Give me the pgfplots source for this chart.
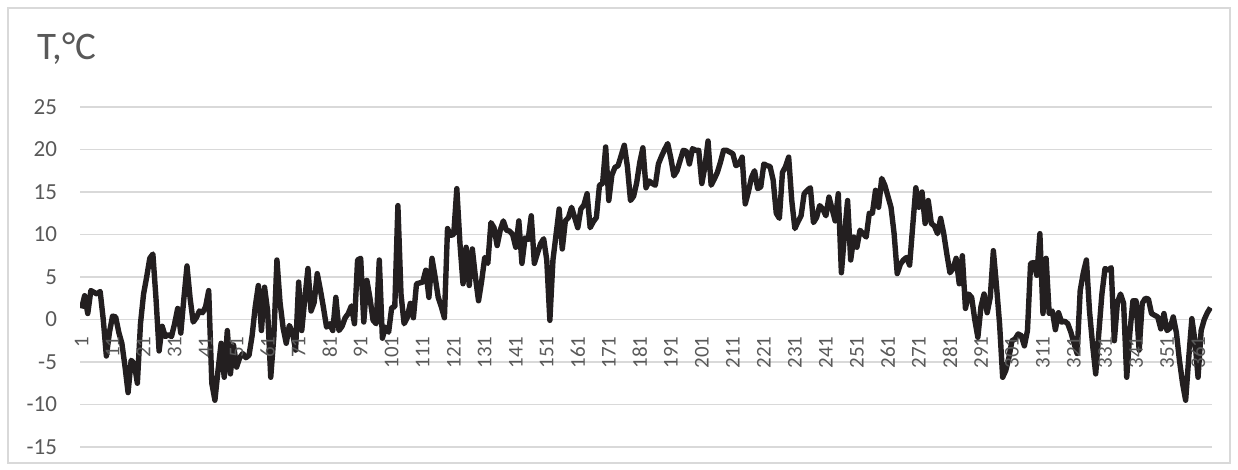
\documentclass[border=0pt]{standalone}
\usepackage{pgfplots}
\pgfplotsset{compat=1.18}
\usepackage{fontspec}
\setmainfont{Carlito}
\definecolor{linec}{HTML}{231F20}
\definecolor{gridc}{HTML}{D9D9D9}
\definecolor{labc}{HTML}{595959}
\pgfplotsset{
  base/.style={
    at={(40pt,11.5pt)}, anchor=south west,
    scale only axis, width=566pt, height=170pt,
    xmin=0.5, xmax=365.5, ymin=-15, ymax=25,
    axis x line=middle, axis y line=left,
    y axis line style={draw=none},
    major tick length=0pt,
    hide obscured x ticks=false, hide obscured y ticks=false,
    tick label style={text=labc},
    /pgf/number format/assume math mode=true,
  }
}
\begin{document}
\begin{tikzpicture}
\useasboundingbox (0,0) rectangle (619pt,235pt);
\draw[gridc, line width=0.6pt] (4pt,3.5pt) rectangle (615pt,231pt);
\node[anchor=west, text=labc, font=\fontsize{19.5}{21}\selectfont, inner sep=0pt] at (18.5pt,210.5pt) {T,°C};
\begin{axis}[
  base,
  x axis line style={-, draw=gridc, line width=0.75pt},
  ytick={-15,-10,...,25},
  xtick=\empty,
  ymajorgrids, grid style={draw=gridc, line width=0.75pt},
  yticklabel style={font=\fontsize{11.5}{12}\selectfont, anchor=east, xshift=-8pt},
]
\addplot[linec, line width=2.7pt, line join=round, mark=none] coordinates {
(1,1.3)(2,2.8)(3,0.7)(4,3.4)(5,3.2)(6,3.0)(7,3.3)(8,0.0)(9,-4.3)(10,-1.5)
(11,0.4)(12,0.3)(13,-1.5)(14,-2.8)(15,-5.5)(16,-8.6)(17,-4.8)(18,-5.2)(19,-7.5)(20,-0.5)
(21,3.0)(22,5.0)(23,7.2)(24,7.7)(25,2.5)(26,-3.7)(27,-0.8)(28,-2.0)(29,-1.8)(30,-2.0)
(31,-0.5)(32,1.3)(33,-1.6)(34,2.5)(35,6.3)(36,2.5)(37,-0.3)(38,0.2)(39,1.0)(40,0.8)
(41,1.5)(42,3.4)(43,-7.5)(44,-9.5)(45,-6.0)(46,-2.8)(47,-6.8)(48,-1.3)(49,-6.4)(50,-3.0)
(51,-5.6)(52,-4.5)(53,-4.0)(54,-4.5)(55,-4.2)(56,-1.9)(57,1.5)(58,4.0)(59,-1.3)(60,3.8)
(61,1.0)(62,-6.8)(63,-2.0)(64,7.0)(65,2.0)(66,-1.0)(67,-2.8)(68,-0.7)(69,-1.5)(70,-3.6)
(71,4.4)(72,-1.3)(73,2.5)(74,6.0)(75,1.0)(76,2.0)(77,5.4)(78,3.5)(79,1.4)(80,-0.9)
(81,-0.5)(82,-1.3)(83,2.6)(84,-1.3)(85,-0.8)(86,0.2)(87,0.7)(88,1.6)(89,-0.5)(90,7.0)
(91,7.2)(92,-0.3)(93,4.6)(94,2.5)(95,-0.1)(96,-0.5)(97,7.0)(98,-2.2)(99,-0.9)(100,-1.5)
(101,1.4)(102,1.5)(103,13.4)(104,3.0)(105,-0.5)(106,0.2)(107,1.9)(108,0.2)(109,4.2)(110,4.3)
(111,4.4)(112,5.8)(113,2.6)(114,7.2)(115,5.0)(116,2.6)(117,1.5)(118,0.2)(119,10.7)(120,9.9)
(121,10.0)(122,15.4)(123,9.0)(124,4.2)(125,8.5)(126,4.0)(127,8.3)(128,5.0)(129,2.2)(130,4.5)
(131,7.3)(132,6.6)(133,11.4)(134,10.8)(135,8.7)(136,10.5)(137,11.6)(138,10.5)(139,10.4)(140,10.0)
(141,8.5)(142,11.6)(143,6.6)(144,9.6)(145,9.4)(146,12.2)(147,6.6)(148,7.8)(149,8.9)(150,9.5)
(151,7.0)(152,-0.1)(153,7.0)(154,10.0)(155,13.0)(156,8.3)(157,11.6)(158,12.0)(159,13.2)(160,12.0)
(161,10.8)(162,13.0)(163,13.5)(164,14.8)(165,10.8)(166,11.5)(167,12.0)(168,15.8)(169,16.0)(170,20.3)
(171,14.0)(172,17.0)(173,17.9)(174,18.1)(175,19.3)(176,20.5)(177,18.0)(178,14.0)(179,14.5)(180,16.1)
(181,18.5)(182,20.2)(183,15.5)(184,16.3)(185,16.0)(186,15.8)(187,18.3)(188,19.2)(189,20.0)(190,20.7)
(191,19.0)(192,16.9)(193,17.5)(194,18.7)(195,19.9)(196,19.8)(197,18.3)(198,20.1)(199,19.9)(200,19.9)
(201,16.0)(202,18.0)(203,21.0)(204,15.8)(205,16.5)(206,17.3)(207,18.5)(208,19.9)(209,19.9)(210,19.7)
(211,19.5)(212,18.1)(213,18.3)(214,19.1)(215,13.6)(216,15.0)(217,16.7)(218,17.5)(219,15.4)(220,15.6)
(221,18.3)(222,18.1)(223,18.0)(224,16.4)(225,12.5)(226,11.9)(227,17.3)(228,18.0)(229,19.1)(230,14.0)
(231,10.7)(232,11.5)(233,12.2)(234,14.8)(235,15.2)(236,15.5)(237,11.4)(238,12.0)(239,13.4)(240,13.0)
(241,12.2)(242,14.4)(243,13.0)(244,11.6)(245,14.8)(246,5.5)(247,10.0)(248,14.0)(249,7.0)(250,9.7)
(251,8.5)(252,10.5)(253,10.1)(254,9.7)(255,12.5)(256,12.5)(257,15.2)(258,13.2)(259,16.6)(260,15.8)
(261,14.5)(262,13.2)(263,10.1)(264,5.4)(265,6.5)(266,7.0)(267,7.3)(268,6.4)(269,11.0)(270,15.5)
(271,13.2)(272,15.0)(273,11.3)(274,14.0)(275,11.3)(276,11.0)(277,10.1)(278,11.9)(279,10.1)(280,7.7)
(281,5.5)(282,6.0)(283,7.2)(284,4.2)(285,7.5)(286,1.3)(287,3.0)(288,2.6)(289,0.0)(290,-2.1)
(291,1.5)(292,3.0)(293,0.8)(294,2.6)(295,8.1)(296,4.0)(297,-0.5)(298,-6.8)(299,-6.0)(300,-4.5)
(301,-2.5)(302,-2.3)(303,-1.7)(304,-1.9)(305,-3.1)(306,-1.3)(307,6.6)(308,6.7)(309,5.2)(310,10.1)
(311,0.7)(312,7.2)(313,0.7)(314,1.0)(315,-1.2)(316,0.8)(317,-0.3)(318,-0.2)(319,-0.5)(320,-1.5)
(321,-2.8)(322,-4.0)(323,3.4)(324,5.5)(325,7.0)(326,1.0)(327,-3.0)(328,-6.4)(329,-1.6)(330,3.0)
(331,6.0)(332,5.8)(333,6.1)(334,-2.5)(335,2.0)(336,3.0)(337,1.9)(338,-6.8)(339,-1.6)(340,2.2)
(341,2.2)(342,-3.6)(343,1.9)(344,2.5)(345,2.4)(346,0.7)(347,0.5)(348,0.3)(349,-1.1)(350,0.7)
(351,-1.3)(352,-1.0)(353,0.3)(354,-1.5)(355,-4.8)(356,-7.5)(357,-9.5)(358,-4.5)(359,0.1)(360,-2.5)
(361,-6.8)(362,-1.3)(363,0.0)(364,0.8)(365,1.4)
};
\end{axis}
\begin{axis}[
  base,
  x axis line style={draw=none},
  ytick=\empty,
  xtick={1,11,...,361},
  xticklabel style={font=\fontsize{10.5}{11}\selectfont, rotate=90, anchor=east},
  xticklabel shift=5pt,
]
\end{axis}
\end{tikzpicture}
\end{document}
